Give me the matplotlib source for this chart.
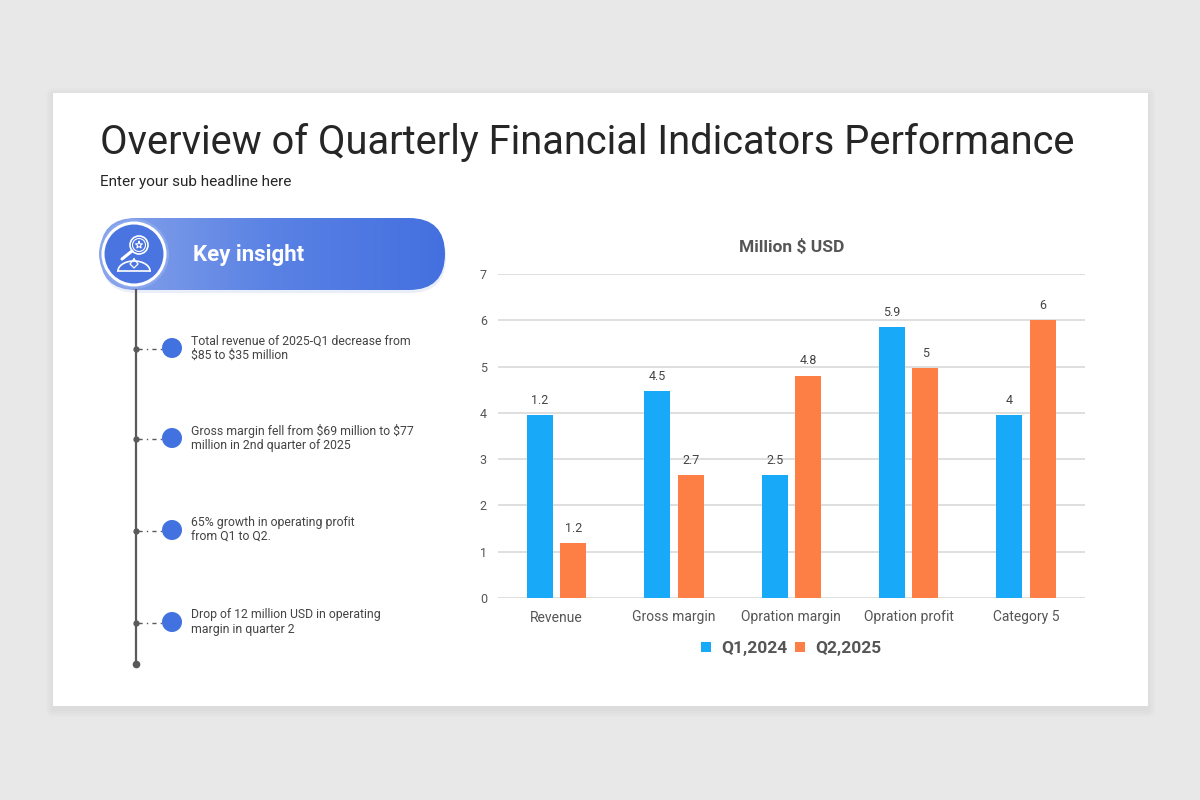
import matplotlib
matplotlib.use('Agg')
import matplotlib.pyplot as plt
import matplotlib.patches as mpatches
import numpy as np

plt.rcParams['font.family'] = ['Roboto', 'DejaVu Sans']

# datos del gráfico
categorias = ['Revenue', 'Gross margin', 'Opration margin', 'Opration profit', 'Category 5']
q1_2024 = [3.95, 4.47, 2.66, 5.85, 3.95]
q2_2025 = [1.18, 2.66, 4.8, 4.97, 6.0]
etiquetas_q1 = ['1.2', '4.5', '2.5', '5.9', '4']
etiquetas_q2 = ['1.2', '2.7', '4.8', '5', '6']
series = ['Q1,2024', 'Q2,2025']
yticks = [0, 1, 2, 3, 4, 5, 6, 7]

insights = [
    'Total revenue of 2025-Q1 decrease from\n\\$85 to \\$35 million',
    'Gross margin fell from \\$69 million to \\$77\nmillion in 2nd quarter of 2025',
    '65% growth in operating profit\nfrom Q1 to Q2.',
    'Drop of 12 million USD in operating\nmargin in quarter 2',
]
insight_y = [349, 439, 531, 623]

azul = '#18a9f8'
naranja = '#fe7f45'
gris_txt = '#555555'

fig = plt.figure(figsize=(12, 8), dpi=100)
fig.patch.set_facecolor('#e9e8e9')

# capa de fondo en pixeles
bg = fig.add_axes([0, 0, 1, 1])
bg.set_xlim(0, 1200)
bg.set_ylim(800, 0)
bg.axis('off')

# sombra suave y tarjeta
for d in [8, 6, 4, 2]:
    bg.add_patch(mpatches.FancyBboxPatch((53 - d + 1, 93 - d + 3), 1095 + 2 * d - 2, 613 + 2 * d,
                                         boxstyle='round,pad=0,rounding_size=%d' % d,
                                         facecolor='#000000', alpha=0.012, lw=0))
bg.add_patch(mpatches.Rectangle((53, 93), 1095, 613, facecolor='white', lw=0))

bg.text(100, 143, 'Overview of Quarterly Financial Indicators Performance', fontsize=28.7,
        color='#262626', va='center', ha='left')
bg.text(100, 182, 'Enter your sub headline here', fontsize=11, color='#262626',
        va='center', ha='left')

# pastilla "Key insight" con degradado
pill = mpatches.FancyBboxPatch((100, 218), 345, 72, boxstyle='round,pad=0,rounding_size=36',
                               facecolor='none', lw=0)
bg.add_patch(mpatches.FancyBboxPatch((101, 221), 345, 72, boxstyle='round,pad=0,rounding_size=36',
                                     facecolor='#3a5fc8', alpha=0.10, lw=0))
bg.add_patch(pill)
grad = np.linspace(0, 1, 256).reshape(1, -1)
cmap = matplotlib.colors.LinearSegmentedColormap.from_list('g', ['#86a2ea', '#5a82e4', '#4470df'])
im = bg.imshow(grad, extent=(100, 445, 290, 218), cmap=cmap, aspect='auto', zorder=2)
im.set_clip_path(pill)
bg.set_xlim(0, 1200)
bg.set_ylim(800, 0)

bg.add_patch(mpatches.Circle((134, 254), 35, facecolor='#8aa6ec', lw=0, zorder=3))
bg.add_patch(mpatches.Circle((134, 254), 31, facecolor='#4a75e0', edgecolor='white', lw=2.2, zorder=4))
# icono: lupa con estrella y persona
bg.add_patch(mpatches.Circle((139, 245), 9, facecolor='none', edgecolor='white', lw=1.2, zorder=5))
bg.add_patch(mpatches.Circle((139, 245), 6.5, facecolor='none', edgecolor='white', lw=0.8, zorder=5))
bg.plot([132, 122], [251, 259], color='white', lw=2.2, zorder=5, solid_capstyle='round')
ang = np.linspace(np.pi / 2, np.pi / 2 + 2 * np.pi, 11)
rad = np.where(np.arange(11) % 2 == 0, 3.6, 1.5)
bg.plot(139 + rad * np.cos(ang), 245 - rad * np.sin(ang), color='white', lw=0.8, zorder=6)
t = np.linspace(np.pi, 0, 30)
bg.plot(134 + 16 * np.cos(t), 271 - 10 * np.sin(t), color='white', lw=1.2, zorder=5)
bg.plot([118, 150], [271, 271], color='white', lw=1.2, zorder=5)
bg.plot([134, 130, 134, 138, 134], [259, 264, 268, 264, 259], color='white', lw=0.9, zorder=5)
bg.text(193, 255, 'Key insight', fontsize=16, fontweight='bold', color='white',
        va='center', ha='left', zorder=6)

# línea de tiempo
bg.plot([136, 136], [290, 664], color='#5a5a5a', lw=1.6, zorder=3)
bg.plot(136, 664, 'o', color='#5a5a5a', ms=4.5, zorder=3)
for y, txt in zip(insight_y, insights):
    bg.plot(136, y, 'o', color='#5a5a5a', ms=3.5, zorder=3)
    bg.plot([138, 162], [y, y], color='#5a5a5a', lw=1, ls=(0, (3, 3, 1, 3)), zorder=3)
    bg.add_patch(mpatches.Circle((172, y - 1), 10, facecolor='#4172df', lw=0, zorder=4))
    bg.text(191, y - 1, txt, fontsize=8.8, color='#444444', va='center', ha='left',
            linespacing=1.15)

# gráfico de barras
ax = fig.add_axes([0.415, 0.2525, 0.489, 0.405])
x = np.arange(len(categorias))
w = 0.222
off = 0.142
b1 = ax.bar(x - off, q1_2024, w, color=azul, zorder=3, label=series[0])
b2 = ax.bar(x + off, q2_2025, w, color=naranja, zorder=3, label=series[1])
for barras, etq in [(b1, etiquetas_q1), (b2, etiquetas_q2)]:
    for b, e in zip(barras, etq):
        ax.annotate(e, (b.get_x() + b.get_width() / 2, b.get_height()), xytext=(0, 6),
                    textcoords='offset points', ha='center', va='bottom', fontsize=9,
                    color='#444444')
ax.set_xlim(-0.5, len(categorias) - 0.5)
ax.set_ylim(0, 7)
ax.set_yticks(yticks)
ax.set_xticks(x)
ax.set_xticklabels(categorias, fontsize=10, color=gris_txt)
ax.tick_params(axis='y', labelsize=9, colors=gris_txt, length=0, pad=8)
ax.tick_params(axis='x', length=0, pad=9)
ax.grid(axis='y', color='#d9d9d9', lw=1.2, zorder=0)
for s in ax.spines.values():
    s.set_visible(False)
ax.set_facecolor('none')
ax.set_title('Million $ USD', fontsize=12.5, fontweight='bold', color=gris_txt, pad=16)
leg = ax.legend(loc='upper center', bbox_to_anchor=(0.5, -0.085), ncol=2, frameon=False,
                handlelength=0.55, handleheight=0.55, handletextpad=0.6, columnspacing=0.45,
                prop={'size': 12.5, 'weight': 'bold'})
for t in leg.get_texts():
    t.set_color(gris_txt)

plt.savefig('out.png', dpi=100, facecolor=fig.get_facecolor())
